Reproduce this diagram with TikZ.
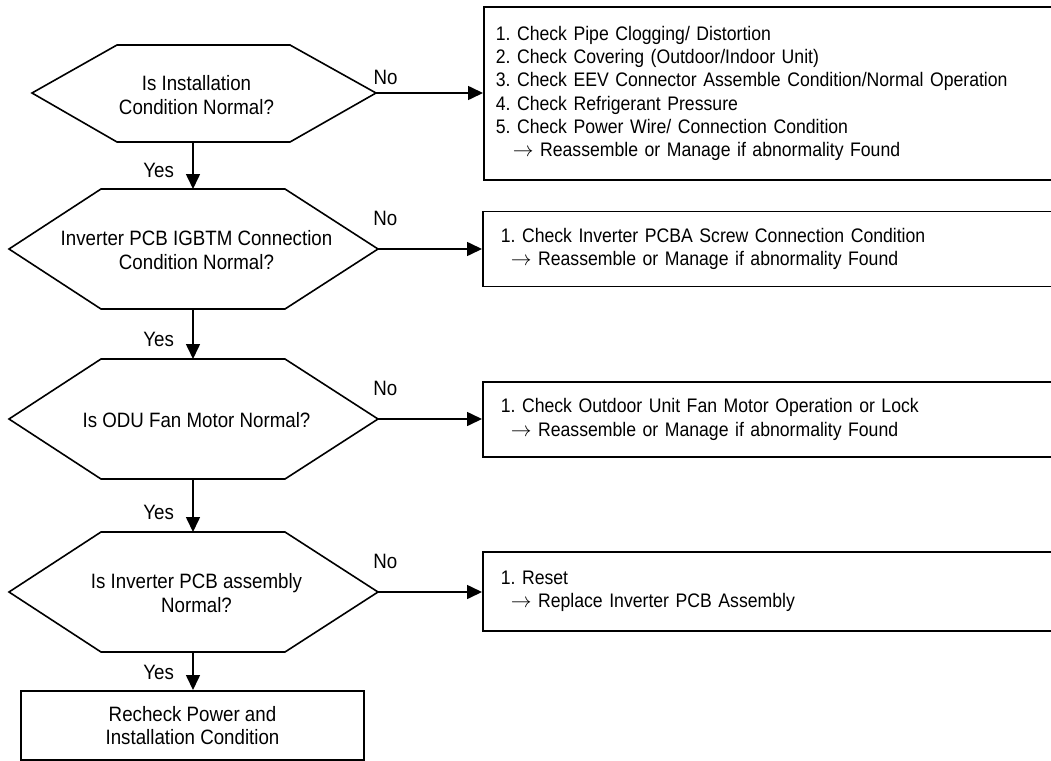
\documentclass[tikz,border=0pt]{standalone}
\usepackage{fontspec}
\setmainfont{Liberation Sans}[FakeStretch=0.9]
\usetikzlibrary{arrows.meta}
\frenchspacing
\tikzset{
  flow/.style={line width=1.6pt},
  arr/.style={flow,-{Triangle[length=15pt,width=14pt]}},
  txt/.style={font=\fontsize{20.8pt}{23.2pt}\selectfont},
  qtext/.style={txt,align=center,inner sep=0pt,font=\fontsize{20.8pt}{24pt}\selectfont},
  chkbox/.style={draw,flow,anchor=west,align=left,text width=560pt,inner xsep=18pt,
    font=\fontsize{19.6pt}{23.2pt}\selectfont},
  endbox/.style={txt,draw,flow,align=center,minimum width=343pt,minimum height=69pt,anchor=north}
}
\begin{document}
\begin{tikzpicture}[x=1pt,y=-1pt]
\useasboundingbox (0,0) rectangle (1051,760);
\clip (0,0) rectangle (1051,760);
% first decision
\draw[flow] (32,93) -- (117,45) -- (290,45) -- (376,93) -- (290,142) -- (117,142) -- cycle;
\node[qtext] (q1) at (196.5,95) {Is Installation\\Condition Normal?};
\coordinate (q1-e) at (376,93);
\coordinate (q1-s) at (193,142);
% the other decisions
\foreach \i/\y/\txt in {2/249/{Inverter PCB IGBTM Connection\\Condition Normal?},
                        3/419/{Is ODU Fan Motor Normal?},
                        4/592/{Is Inverter PCB assembly\\Normal?}}
{
  \draw[flow] (9,\y) -- (101,\y-60) -- (285,\y-60) -- (378,\y) -- (285,\y+60) -- (101,\y+60) -- cycle;
  \node[qtext] (q\i) at (196.5,\y+1) {\txt};
  \coordinate (q\i-e) at (378,\y);
  \coordinate (q\i-n) at (193,\y-60);
  \coordinate (q\i-s) at (193,\y+60);
}
% checks
\node[chkbox,inner xsep=12pt,minimum height=173pt] (r1) at (483,93.5) {1. Check Pipe Clogging/ Distortion\\
  2. Check Covering (Outdoor/Indoor Unit)\\
  3. Check EEV Connector Assemble Condition/Normal Operation\\
  4. Check Refrigerant Pressure\\
  5. Check Power Wire/ Connection Condition\\
  \hspace*{17pt}$\rightarrow$ Reassemble or Manage if abnormality Found};
\node[chkbox,minimum height=75pt] (r2) at (482,249) {1. Check Inverter PCBA Screw Connection Condition\\
  \hspace*{10pt}$\rightarrow$ Reassemble or Manage if abnormality Found};
\node[chkbox,minimum height=75pt] (r3) at (482,419.5) {1. Check Outdoor Unit Fan Motor Operation or Lock\\
  \hspace*{10pt}$\rightarrow$ Reassemble or Manage if abnormality Found};
\node[chkbox,minimum height=79pt] (r4) at (482,591.5) {1. Reset\\
  \hspace*{10pt}$\rightarrow$ Replace Inverter PCB Assembly};
\node[endbox] (fin) at (192.5,690) {Recheck Power and\\Installation Condition};
% connectors
\draw[arr] (q1-e) -- node[txt,pos=0.09,above=4pt] {No} (q1-e -| r1.west);
\draw[arr] (q2-e) -- node[txt,pos=0.07,above=19pt] {No} (q2-e -| r2.west);
\draw[arr] (q3-e) -- node[txt,pos=0.07,above=19pt] {No} (q3-e -| r3.west);
\draw[arr] (q4-e) -- node[txt,pos=0.07,above=19pt] {No} (q4-e -| r4.west);
\draw[arr] (q1-s) -- node[txt,pos=0.6,left=15pt] {Yes} (q2-n);
\draw[arr] (q2-s) -- node[txt,pos=0.6,left=15pt] {Yes} (q3-n);
\draw[arr] (q3-s) -- node[txt,pos=0.63,left=15pt] {Yes} (q4-n);
\draw[arr] (q4-s) -- node[txt,pos=0.53,left=15pt] {Yes} (q4-s |- fin.north);
\end{tikzpicture}
\end{document}
